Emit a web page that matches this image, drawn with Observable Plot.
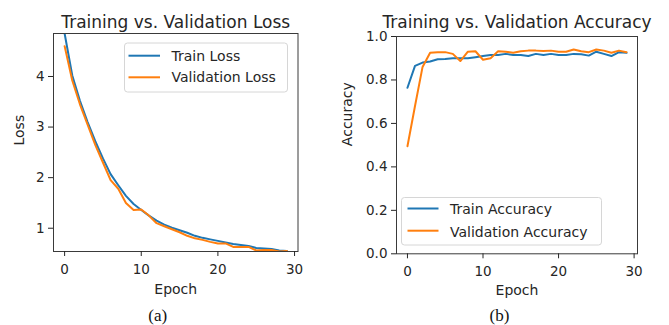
<!DOCTYPE html>
<html>
<head>
<meta charset="utf-8">
<script src="https://cdn.jsdelivr.net/npm/d3@7"></script>
<script src="https://cdn.jsdelivr.net/npm/@observablehq/plot@0.6"></script>
<style>
  body { margin: 0; background: #fff; }
  #wrap { position: relative; width: 669px; height: 325px; overflow: hidden; background: #fff; font-family: "DejaVu Sans", sans-serif; }
  .panel { position: absolute; top: 0; }
  #overlay { position: absolute; left: 0; top: 0; pointer-events: none; }
</style>
</head>
<body>
<div id="wrap"></div>
<script>
// ---------- data ----------
const epochs = [0,1,2,3,4,5,6,7,8,9,10,11,12,13,14,15,16,17,18,19,20,21,22,23,24,25,26,27,28,29];
const trainLoss = [4.85,4.02,3.52,3.10,2.72,2.38,2.07,1.85,1.64,1.48,1.36,1.25,1.15,1.07,1.01,0.96,0.91,0.85,0.81,0.78,0.75,0.72,0.69,0.67,0.65,0.61,0.60,0.59,0.56,0.55];
const valLoss   = [4.60,3.92,3.45,3.05,2.65,2.30,1.95,1.78,1.50,1.36,1.37,1.25,1.10,1.04,0.98,0.92,0.85,0.80,0.77,0.73,0.70,0.70,0.63,0.63,0.63,0.56,0.57,0.57,0.54,0.55];
const trainAcc  = [0.764,0.865,0.880,0.885,0.895,0.897,0.900,0.900,0.900,0.905,0.910,0.915,0.915,0.920,0.915,0.915,0.910,0.920,0.915,0.920,0.915,0.915,0.920,0.918,0.912,0.930,0.920,0.910,0.928,0.925];
const valAcc    = [0.495,0.680,0.860,0.925,0.927,0.928,0.920,0.887,0.930,0.932,0.893,0.900,0.932,0.930,0.925,0.932,0.935,0.935,0.933,0.935,0.930,0.930,0.940,0.932,0.928,0.940,0.935,0.925,0.935,0.928];
const xTicks = [0,10,20,30];
const lossTicks = [1,2,3,4];
const accTicks = [0.0,0.2,0.4,0.6,0.8,1.0];
const lossSeries = ["Train Loss","Validation Loss"];
const accSeries = ["Train Accuracy","Validation Accuracy"];
const colors = ["#1f77b4","#ff7f0e"];

const lossData = epochs.flatMap((e,i) => [
  {epoch: e, value: trainLoss[i], series: lossSeries[0]},
  {epoch: e, value: valLoss[i], series: lossSeries[1]}
]);
const accData = epochs.flatMap((e,i) => [
  {epoch: e, value: trainAcc[i], series: accSeries[0]},
  {epoch: e, value: valAcc[i], series: accSeries[1]}
]);

const TXT = "#262626";
const font = "DejaVu Sans";

function panel(cfg) {
  return Plot.plot({
    width: cfg.width, height: 325,
    marginLeft: cfg.ml, marginRight: cfg.mr, marginTop: cfg.mt, marginBottom: cfg.mb,
    style: {fontFamily: font, fontSize: "13.5px", color: TXT, background: "transparent", overflow: "visible"},
    x: {domain: [-1.45, 30.45]},
    y: {domain: cfg.yDomain},
    color: {domain: cfg.series, range: colors},
    marks: [
      Plot.line(cfg.data, {x: "epoch", y: "value", z: "series", stroke: "series", strokeWidth: 2, clip: true}),
      Plot.frame({stroke: "#3a3a3a", strokeWidth: 1}),
      Plot.axisX({ticks: xTicks, tickSize: 5, tickPadding: 7.5, label: null, tickFormat: d => String(d)}),
      Plot.axisY({ticks: cfg.yTicks, tickSize: 5, tickPadding: 4, label: null, tickFormat: cfg.yFormat}),
      Plot.text([cfg.title], {text: d => d, frameAnchor: "top", lineAnchor: "top", dy: cfg.titleDy, fontSize: 17, fill: TXT}),
      Plot.text(["Epoch"], {text: d => d, frameAnchor: "bottom", lineAnchor: "top", dy: cfg.xlabDy, fontSize: 14, fill: TXT}),
      Plot.text([cfg.ylabel], {text: d => d, frameAnchor: "left", lineAnchor: "middle", rotate: -90, dx: cfg.ylabDx, dy: cfg.ylabDy, fontSize: 14, fill: TXT}),
      Plot.text([cfg.caption], {text: d => d, frameAnchor: "bottom", lineAnchor: "top", dx: cfg.capDx, dy: cfg.capDy, fontSize: 17, fontFamily: "Liberation Serif", fill: "#111"})
    ]
  });
}

const wrap = document.getElementById("wrap");

const left = panel({
  width: 330, ml: 53, mr: 32.5, mt: 33, mb: 74,
  data: lossData, series: lossSeries, yDomain: [0.54, 4.85], yTicks: lossTicks, yFormat: d => String(d),
  title: "Training vs. Validation Loss", titleDy: -18, xlabDy: 33,
  ylabel: "Loss", ylabDx: -34, ylabDy: 3,
  caption: "(a)", capDx: -18, capDy: 57.4
});
left.classList.add("panel");
left.style.left = "0px";
wrap.appendChild(left);

const right = panel({
  width: 339, ml: 66, mr: 32, mt: 36, mb: 71.7,
  data: accData, series: accSeries, yDomain: [0, 1], yTicks: accTicks, yFormat: d3.format(".1f"),
  title: "Training vs. Validation Accuracy", titleDy: -20.8, xlabDy: 31.7,
  ylabel: "Accuracy", ylabDx: -48.5, ylabDy: 1,
  caption: "(b)", capDx: -17.5, capDy: 55
});
right.classList.add("panel");
right.style.left = "330px";
wrap.appendChild(right);

// ---------- legends ----------
const ov = d3.select(wrap).append("svg").attr("id", "overlay").attr("width", 669).attr("height", 325);
function legend(box, names, lineX, textX, rowY, baseY) {
  const g = ov.append("g").attr("font-family", font).attr("font-size", 14);
  g.append("rect").attr("x", box[0]).attr("y", box[1]).attr("width", box[2]).attr("height", box[3])
    .attr("rx", 3).attr("fill", "white").attr("fill-opacity", 0.85).attr("stroke", "#d6d6d6");
  names.forEach((n, i) => {
    g.append("line").attr("x1", lineX[0]).attr("x2", lineX[1]).attr("y1", rowY[i]).attr("y2", rowY[i])
      .attr("stroke", colors[i]).attr("stroke-width", 2);
    g.append("text").attr("x", textX).attr("y", baseY[i]).attr("fill", TXT).text(n);
  });
}
legend([124.5, 43, 163, 49], lossSeries, [128.5, 160], 171.5, [55.7, 77.3], [60.5, 81.5]);
legend([401.5, 197.5, 200, 47.5], accSeries, [407.5, 438.5], 450, [208.5, 230.7], [214, 236.5]);
</script>
</body>
</html>
